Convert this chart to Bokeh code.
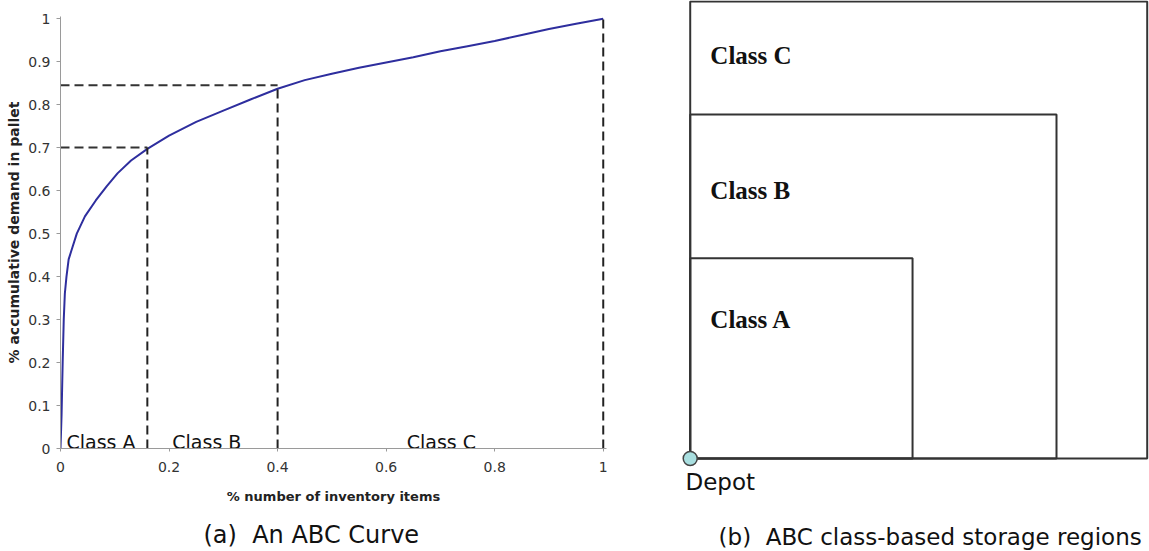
from bokeh.plotting import figure
from bokeh.models import Range1d, FixedTicker, NumeralTickFormatter, Label
from bokeh.layouts import row, column
from bokeh.embed import file_html
from bokeh.resources import INLINE
from bokeh.core.properties import value

# ---------------- data ----------------
items_share = [0.0, 0.002, 0.004, 0.006, 0.008, 0.011, 0.015, 0.02, 0.03, 0.045,
               0.065, 0.085, 0.105, 0.13, 0.16, 0.2, 0.25, 0.3, 0.35, 0.4,
               0.45, 0.5, 0.55, 0.6, 0.65, 0.7, 0.75, 0.8, 0.85, 0.9, 0.95, 1.0]
demand_share = [0.0, 0.08, 0.2, 0.3, 0.36, 0.4, 0.44, 0.46, 0.5, 0.54,
                0.577, 0.61, 0.64, 0.67, 0.697, 0.728, 0.76, 0.786, 0.812, 0.837,
                0.857, 0.872, 0.886, 0.898, 0.91, 0.924, 0.936, 0.948, 0.962, 0.976, 0.988, 1.0]
cut_x = [0.16, 0.40, 1.0]
cut_y = [0.70, 0.845, 1.0]
class_names = ["Class A", "Class B", "Class C"]
x_ticks = [0, 0.2, 0.4, 0.6, 0.8, 1.0]
y_ticks = [0, 0.1, 0.2, 0.3, 0.4, 0.5, 0.6, 0.7, 0.8, 0.9, 1.0]

region_names = ["Class C", "Class B", "Class A"]
region_width = [1.0, 0.8015, 0.4865]
region_height = [1.0, 0.753, 0.438]
depot_x = [0.0]
depot_y = [0.0]

SANS = "DejaVu Sans"
NBSP = "\u00a0"
caption_a = "(a)" + NBSP + " An ABC Curve"
caption_b = "(b)" + NBSP + " ABC class-based storage regions"


def no_frame_align(p):
    if "frame_align" in p.properties():
        p.frame_align = False


# ---------------- (a) ABC curve ----------------
p1 = figure(width=640, height=520, x_range=Range1d(0, 1.006), y_range=Range1d(0, 1.005),
            output_backend="svg", toolbar_location=None,
            min_border_left=60, min_border_right=34, min_border_top=16, min_border_bottom=72)
no_frame_align(p1)
p1.outline_line_color = None
p1.grid.visible = False

for ax in (p1.xaxis[0], p1.yaxis[0]):
    ax.axis_line_color = "#9a9a9a"
    ax.axis_line_width = 1
    ax.major_tick_line_color = "#9a9a9a"
    ax.major_tick_in = 0
    ax.minor_tick_out = 0
    ax.minor_tick_in = 0
    ax.formatter = NumeralTickFormatter(format="0.[0]")
    ax.major_label_text_font = SANS
    ax.major_label_text_font_size = "14px"
    ax.major_label_text_color = "#333333"
    ax.axis_label_text_font = SANS
    ax.axis_label_text_font_style = "bold"
    ax.axis_label_text_color = "#222222"

p1.xaxis.ticker = FixedTicker(ticks=x_ticks)
p1.yaxis.ticker = FixedTicker(ticks=y_ticks)
p1.xaxis.major_tick_out = 3
p1.xaxis.major_label_standoff = 10
p1.xaxis.axis_label = "% number of inventory items"
p1.xaxis.axis_label_text_font_size = "13px"
p1.xaxis.axis_label_standoff = 14
p1.yaxis.major_tick_out = 4
p1.yaxis.major_label_standoff = 6
p1.yaxis.axis_label = "% accumulative demand in pallet"
p1.yaxis.axis_label_text_font_size = "14px"
p1.yaxis.axis_label_standoff = 3

p1.line(items_share, demand_share, line_color="#2e2e9e", line_width=2)
p1.segment(x0=cut_x, y0=[0] * len(cut_x), x1=cut_x, y1=cut_y,
           line_color="#222222", line_width=2, line_dash="9 5")
p1.segment(x0=[0] * 2, y0=cut_y[:2], x1=cut_x[:2], y1=cut_y[:2],
           line_color="#333333", line_width=2, line_dash="9 5")
p1.text(x=[0.011, 0.206, 0.638], y=[0.015] * 3, text=class_names,
        text_font=value(SANS), text_font_size="19px", text_color="#111111",
        text_baseline="middle", text_align="left")

# caption strip under (a)
pcap = figure(width=640, height=31, x_range=Range1d(0, 640), y_range=Range1d(0, 31),
              output_backend="svg", toolbar_location=None,
              x_axis_location=None, y_axis_location=None, min_border=0)
no_frame_align(pcap)
pcap.outline_line_color = None
pcap.grid.visible = False
pcap.add_layout(Label(x=203, y=16.3, text=caption_a, text_font=SANS, text_font_size="24px",
                      text_color="#111111", text_baseline="middle", text_align="left"))

# ---------------- (b) storage regions ----------------
p2 = figure(width=509, height=551, x_range=Range1d(-0.1088, 1.005), y_range=Range1d(-0.2035, 1.0022),
            output_backend="svg", toolbar_location=None,
            x_axis_location=None, y_axis_location=None, min_border=0)
no_frame_align(p2)
p2.outline_line_color = None
p2.grid.visible = False

p2.quad(left=[0] * 3, right=region_width, bottom=[0] * 3, top=region_height,
        fill_color=None, line_color="#333333", line_width=2)
p2.text(x=[0.044] * 3, y=[0.8827, 0.5873, 0.305], text=region_names,
        text_font=value("Liberation Serif"), text_font_style="bold", text_font_size="25px",
        text_color="#111111", text_baseline="middle", text_align="left")
p2.scatter(depot_x, depot_y, size=14, fill_color="#a9dfe0", line_color="#444444", line_width=1.5)
p2.add_layout(Label(x=-0.0103, y=-0.0525, text="Depot", text_font=SANS, text_font_size="23px",
                    text_color="#111111", text_baseline="middle", text_align="left"))
p2.add_layout(Label(x=0.062, y=-0.172, text=caption_b,
                    text_font=SANS, text_font_size="23px", text_color="#111111",
                    text_baseline="middle", text_align="left"))

layout = row(column(p1, pcap), p2)
open("out.html", "w").write(file_html(layout, INLINE))
